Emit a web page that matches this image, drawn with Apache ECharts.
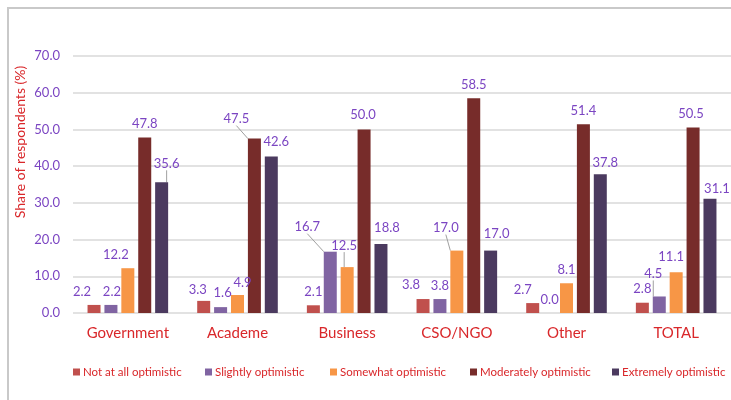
<!DOCTYPE html>
<html>
<head>
<meta charset="utf-8">
<title>Optimism by sector</title>
<script src="https://cdn.jsdelivr.net/npm/echarts@6/dist/echarts.min.js"></script>
<style>
  html, body { margin: 0; padding: 0; background: #ffffff; }
  #chart { width: 731px; height: 400px; }
</style>
</head>
<body>
<div id="chart"></div>
<script>
// Sectors along the x axis
const categories = ['Government', 'Academe', 'Business', 'CSO/NGO', 'Other', 'TOTAL'];

// Share of respondents (%) for each level of optimism
const notAtAll   = [2.2, 3.3, 2.1, 3.8, 2.7, 2.8];
const slightly   = [2.2, 1.6, 16.7, 3.8, 0.0, 4.5];
const somewhat   = [12.2, 4.9, 12.5, 17.0, 8.1, 11.1];
const moderately = [47.8, 47.5, 50.0, 58.5, 51.4, 50.5];
const extremely  = [35.6, 42.6, 18.8, 17.0, 37.8, 31.1];

const seriesNames = ['Not at all optimistic', 'Slightly optimistic', 'Somewhat optimistic',
                     'Moderately optimistic', 'Extremely optimistic'];
const seriesValues = [notAtAll, slightly, somewhat, moderately, extremely];
const seriesColors = ['#c0504d', '#8064a2', '#f79646', '#772c2a', '#4b3a5f'];

// Hand-placed label nudges [dx, dy] in px, plus which labels get a leader line
const labelNudge = [
  [[-12, 0], [-6, 2], [0, 0], [-12, -1], [-10, 0], [0, 0]],
  [[1, 0], [2, -1], [-23, -11], [0, 0], [0, 0], [-6, -9]],
  [[-12, 0], [5, 1], [-3, -8], [-11, -9], [0, 0], [-5, -2]],
  [[0, 0], [-18, -6], [-1, -1], [0, 0], [0, 0], [-2, 0]],
  [[5, -5], [5, -1], [6, -3], [6, -3], [5, 2], [7, 3]]
];
const leaderLines = [
  [],
  [2, 5],
  [2, 3],
  [1],
  [0]
];

// Left edge of each legend entry
const legendLeft = [73, 205, 330, 470, 612];

const labelPurple = '#7b45c2';
const titleRed = '#d9272a';
const fontFamily = 'Lato, "Open Sans", sans-serif';

const series = seriesValues.map((vals, s) => ({
  name: seriesNames[s],
  type: 'bar',
  barWidth: 13,
  barGap: '30%',
  itemStyle: { color: seriesColors[s] },
  data: vals.map((v, i) => leaderLines[s].includes(i)
    ? { value: v, labelLine: { show: true } }
    : v),
  label: {
    show: true,
    position: 'top',
    distance: 7,
    color: labelPurple,
    fontFamily: fontFamily,
    fontSize: 13,
    formatter: p => Number(p.value).toFixed(1)
  },
  labelLine: {
    show: false,
    lineStyle: { color: '#a0a0a0', width: 1 }
  },
  labelLayout: params => {
    const n = labelNudge[params.seriesIndex][params.dataIndex];
    return { dx: n[0], dy: n[1] };
  }
}));

// One legend block per series so each entry sits at its own x
const legends = seriesNames.map((name, s) => ({
  top: 366,
  left: legendLeft[s],
  padding: 0,
  itemWidth: 7,
  itemHeight: 7,
  itemGap: 0,
  icon: 'rect',
  textStyle: {
    color: titleRed,
    fontSize: 11.5,
    fontFamily: fontFamily,
    padding: [0, 0, 0, -2]
  },
  data: [name]
}));

const chart = echarts.init(document.getElementById('chart'), null, { renderer: 'canvas' });
chart.setOption({
  animation: false,
  backgroundColor: '#ffffff',
  grid: { left: 73, right: 0, top: 56, bottom: 87, containLabel: false },
  legend: legends,
  xAxis: {
    type: 'category',
    data: categories,
    axisLine: { show: false },
    axisTick: { show: false },
    axisLabel: { color: titleRed, fontSize: 15, fontFamily: fontFamily, margin: 13 }
  },
  yAxis: {
    type: 'value',
    min: 0,
    max: 70,
    interval: 10,
    axisLine: { show: false },
    axisTick: { show: false },
    splitLine: { lineStyle: { color: '#d9d9d9', width: 1.5 } },
    axisLabel: {
      color: labelPurple,
      fontSize: 13,
      fontFamily: fontFamily,
      margin: 13,
      formatter: v => v.toFixed(1)
    }
  },
  graphic: [
    {
      type: 'polyline',
      shape: { points: [[8, 400], [8, 8], [731, 8]] },
      style: { stroke: '#c9c9c9', lineWidth: 2, fill: null },
      silent: true
    },
    {
      type: 'text',
      x: 20,
      y: 142,
      rotation: Math.PI / 2,
      style: {
        text: 'Share of respondents (%)',
        fill: titleRed,
        font: '14px ' + fontFamily,
        align: 'center',
        verticalAlign: 'middle'
      }
    }
  ],
  series: series
});
</script>
</body>
</html>
